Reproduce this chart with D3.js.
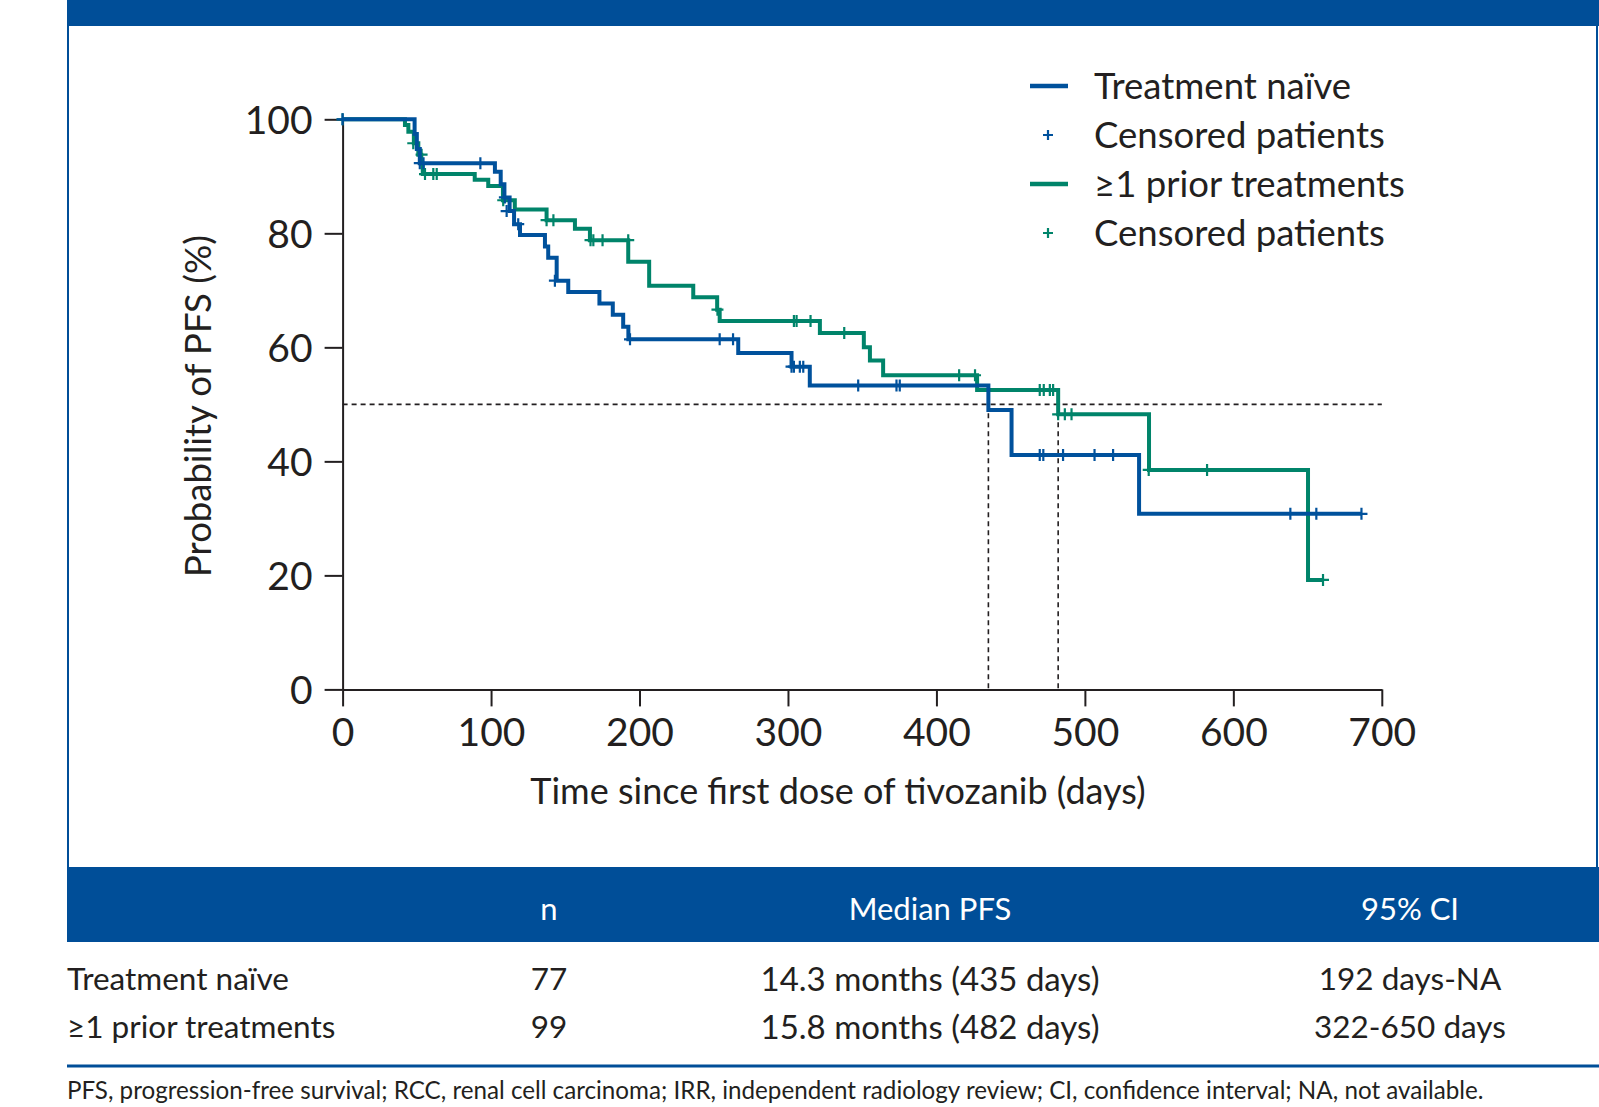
<!DOCTYPE html>
<html>
<head>
<meta charset="utf-8">
<script src="https://cdnjs.cloudflare.com/ajax/libs/d3/7.8.5/d3.min.js"></script>
<style>
  body { margin: 0; background: #fff; }
  svg { display: block; font-family: Lato, "Open Sans", sans-serif; }
  .axis text { font-size: 39px; fill: #231f20; }
  .axis path, .axis line { stroke: #231f20; stroke-width: 2; }
</style>
</head>
<body>
<svg id="chart" width="1599" height="1107"></svg>
<script>
// step points [day, % progression-free]
var naiveSteps = [[0,100],[48.5,97.4],[50,94.8],[52,92.3],[102.6,90.8],[106.5,88.6],[109,86.3],[112.5,83.9],
  [115.5,81.6],[119.5,79.7],[136.3,77.7],[138.5,75.7],[144.2,71.7],[152,69.7],[173,67.7],[182,65.7],
  [189,63.6],[192.5,61.4],[266.5,59.0],[302.4,56.6],[314.7,53.3],[435,49.0],[450.6,41.1],[536.5,30.8],[686.3,30.8]];
var naiveCensored = [[0,100],[52,92.3],[54.5,92.3],[92.8,92.3],[109.3,86.3],[110.5,83.9],[118.3,81.6],[143,71.7],
  [193.6,61.4],[254,61.4],[263,61.4],[302.4,56.6],[304,56.6],[308,56.6],[310.3,56.6],[347.3,53.3],[373.1,53.3],
  [375.3,53.3],[469.6,41.1],[472,41.1],[485.3,41.1],[506.5,41.1],[519,41.1],[638.4,30.8],[655.9,30.8],[686.3,30.8]];

var priorSteps = [[0,100],[42,99.0],[44.3,97.8],[48,95.8],[51,93.8],[53,92.2],[54,90.4],[89,89.4],[98.1,88.3],
  [108,85.8],[116,84.2],[137.4,82.3],[156.5,80.8],[166.6,78.8],[192.4,75.0],[206.5,70.8],[236.2,68.8],
  [252.3,66.6],[254,64.6],[321.5,62.5],[351.1,60.0],[355.2,57.7],[364.1,55.1],[427.4,52.5],[482,48.25],
  [543.2,38.5],[650.3,19.2],[660.4,19.2]];
var priorCensored = [[0,100],[47.6,95.8],[53.2,93.8],[55.5,90.4],[61.1,90.4],[63.4,90.4],[108.2,85.8],[137.4,82.3],
  [142,82.3],[167,78.8],[168.9,78.8],[175.1,78.8],[192.4,78.8],[252.5,66.6],[304,64.6],[305.8,64.6],[315.2,64.6],
  [337.9,62.5],[415.3,55.1],[426,55.1],[469.6,52.5],[472.3,52.5],[476.4,52.5],[478.6,52.5],[482,48.25],
  [486.5,48.25],[491,48.25],[543,38.5],[582.3,38.5],[660.4,19.2]];

var medianDays = [435, 482];
var xTicks = [0, 100, 200, 300, 400, 500, 600, 700];
var yTicks = [0, 20, 40, 60, 80, 100];

var legendLabels = ["Treatment naïve", "Censored patients", "\u22651 prior treatments", "Censored patients"];
var tableHeader = ["n", "Median PFS", "95% CI"];
var tableGroups = ["Treatment naïve", "\u22651 prior treatments"];
var tableN = ["77", "99"];
var tableMedian = ["14.3 months (435 days)", "15.8 months (482 days)"];
var tableCI = ["192 days-NA", "322-650 days"];
var footnote = "PFS, progression-free survival; RCC, renal cell carcinoma; IRR, independent radiology review; CI, confidence interval; NA, not available.";

var blue = "#00519c", green = "#00846a", band = "#004e98", ink = "#231f20";

var svg = d3.select("#chart");
svg.append("rect").attr("width", 1599).attr("height", 1107).attr("fill", "#fff");

// frame
svg.append("rect").attr("x", 67).attr("y", 0).attr("width", 1532).attr("height", 26).attr("fill", band);
svg.append("line").attr("x1", 68).attr("x2", 68).attr("y1", 26).attr("y2", 867).attr("stroke", band).attr("stroke-width", 2);
svg.append("line").attr("x1", 1597).attr("x2", 1597).attr("y1", 26).attr("y2", 867).attr("stroke", band).attr("stroke-width", 2);

var x = d3.scaleLinear().domain([0, 700]).range([342.6, 1381.8]);
var y = d3.scaleLinear().domain([0, 100]).range([689.4, 119.3]);

// median reference lines
var ref = svg.append("g").attr("stroke", ink).attr("stroke-width", 1.6).attr("stroke-dasharray", "5,4").attr("fill", "none");
ref.append("line").attr("x1", x(0)).attr("x2", x(700)).attr("y1", y(50)).attr("y2", y(50));
medianDays.forEach(function(d) {
  ref.append("line").attr("x1", x(d)).attr("x2", x(d)).attr("y1", y(50)).attr("y2", y(0));
});

svg.append("g").attr("class", "axis")
  .attr("transform", "translate(0," + y(0) + ")")
  .call(d3.axisBottom(x).tickValues(xTicks).tickSize(17).tickSizeOuter(0).tickPadding(12))
  .call(function(g) { g.select(".domain").attr("stroke-width", 2); });

svg.append("g").attr("class", "axis")
  .attr("transform", "translate(" + x(0) + ",0)")
  .call(d3.axisLeft(y).tickValues(yTicks).tickSize(18).tickSizeOuter(0).tickPadding(12))
  .call(function(g) { g.selectAll("text").attr("dy", "0.36em"); });

svg.selectAll(".axis text").attr("font-family", "Lato, sans-serif");

svg.append("text").attr("x", 838).attr("y", 804).attr("text-anchor", "middle")
  .attr("font-size", 36).attr("fill", ink).text("Time since first dose of tivozanib (days)");
svg.append("text").attr("transform", "translate(211,406) rotate(-90)").attr("text-anchor", "middle")
  .attr("font-size", 36.5).attr("fill", ink).text("Probability of PFS (%)");

var line = d3.line().x(function(d) { return x(d[0]); }).y(function(d) { return y(d[1]); }).curve(d3.curveStepAfter);

function drawSeries(steps, censored, color) {
  svg.append("path").datum(steps).attr("d", line).attr("fill", "none")
    .attr("stroke", color).attr("stroke-width", 4).attr("stroke-linejoin", "miter");
  svg.append("g").selectAll("path").data(censored).join("path")
    .attr("d", function(d) {
      var cx = x(d[0]), cy = y(d[1]);
      return "M" + (cx - 6) + "," + cy + "H" + (cx + 6) + "M" + cx + "," + (cy - 6) + "V" + (cy + 6);
    })
    .attr("stroke", color).attr("stroke-width", 2.2);
}
drawSeries(priorSteps, priorCensored, green);
drawSeries(naiveSteps, naiveCensored, blue);

// legend
var legendColors = [blue, blue, green, green];
var lg = svg.append("g");
legendLabels.forEach(function(lab, i) {
  var cy = 86 + i * 49;
  if (i % 2 === 0) {
    lg.append("line").attr("x1", 1030).attr("x2", 1068).attr("y1", cy).attr("y2", cy)
      .attr("stroke", legendColors[i]).attr("stroke-width", 4.5);
  } else {
    lg.append("path").attr("d", "M1043," + cy + "H1053M1048," + (cy - 5) + "V" + (cy + 5))
      .attr("stroke", legendColors[i]).attr("stroke-width", 2.2);
  }
  lg.append("text").attr("x", 1094).attr("y", cy).attr("dy", "0.36em")
    .attr("font-size", 36.5).attr("fill", ink).text(lab);
});

// table
var colX = [549, 930, 1410];
svg.append("rect").attr("x", 67).attr("y", 867).attr("width", 1532).attr("height", 75).attr("fill", band);
tableHeader.forEach(function(h, i) {
  svg.append("text").attr("x", colX[i]).attr("y", 909).attr("dy", "0.36em").attr("text-anchor", "middle")
    .attr("font-size", 31).attr("fill", "#fff").text(h);
});
var rowY = [979, 1027];
tableGroups.forEach(function(g, i) {
  var t = svg.append("g").attr("font-size", 31.5).attr("fill", ink);
  t.append("text").attr("x", 67).attr("y", rowY[i]).attr("dy", "0.36em").text(g);
  [tableN[i], tableMedian[i], tableCI[i]].forEach(function(v, j) {
    t.append("text").attr("x", colX[j]).attr("y", rowY[i]).attr("dy", "0.36em").attr("text-anchor", "middle")
      .attr("font-size", j === 1 ? 33 : 31.5).text(v);
  });
});
svg.append("line").attr("x1", 67).attr("x2", 1599).attr("y1", 1066).attr("y2", 1066)
  .attr("stroke", band).attr("stroke-width", 3);

svg.append("text").attr("x", 67).attr("y", 1099).attr("font-size", 24.2).attr("fill", ink).text(footnote);
</script>
</body>
</html>
